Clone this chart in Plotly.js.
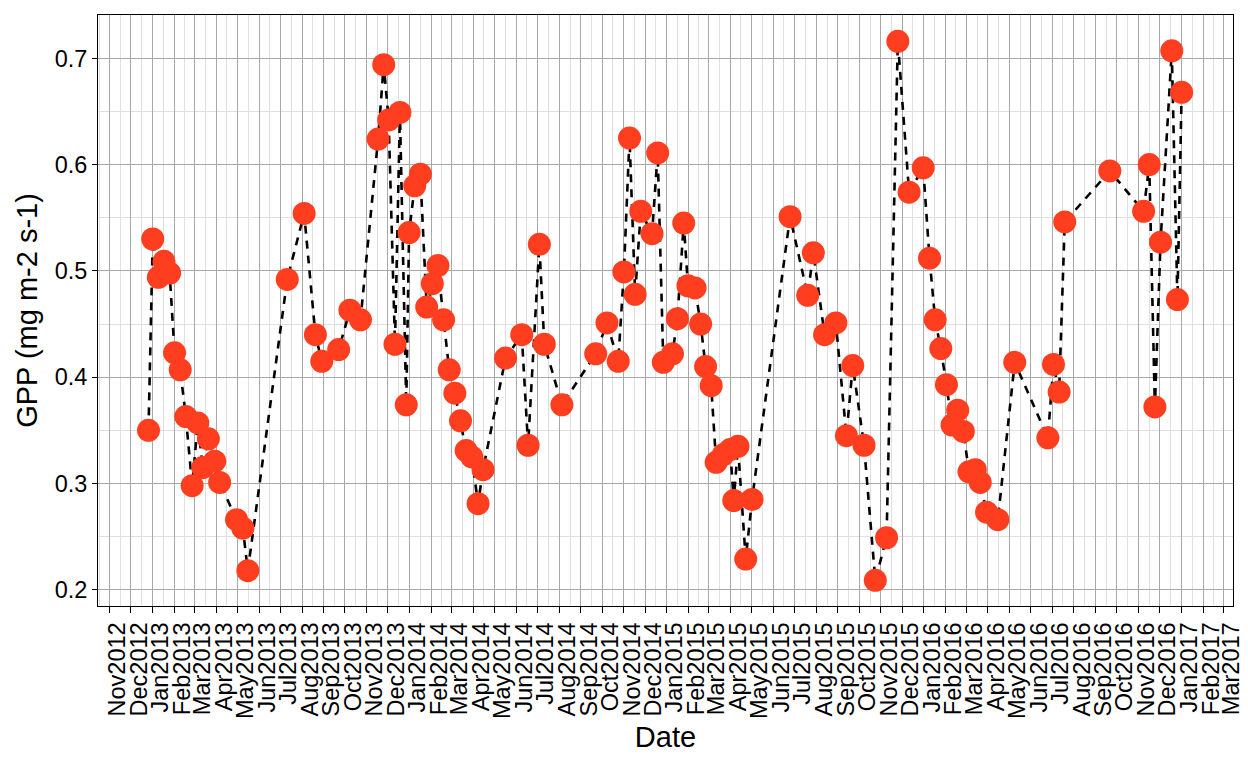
<!DOCTYPE html>
<html>
<head>
<meta charset="utf-8">
<script src="https://cdn.plot.ly/plotly-3.0.1.min.js"></script>
<style>
  html, body { margin: 0; padding: 0; background: #ffffff; }
  #chart { width: 1248px; height: 768px; }
</style>
</head>
<body>
<div id="chart"></div>
<script>
// ---- data ----
const dates = [
  "2012-12-26","2013-01-01","2013-01-09","2013-01-17","2013-01-25","2013-02-01","2013-02-09","2013-02-17",
  "2013-02-26","2013-03-06","2013-03-13","2013-03-21","2013-03-30","2013-04-06","2013-04-30","2013-05-09",
  "2013-05-16","2013-07-11","2013-08-04","2013-08-20","2013-08-29","2013-09-22","2013-10-08","2013-10-23",
  "2013-11-17","2013-11-25","2013-12-02","2013-12-11","2013-12-18","2013-12-27","2013-12-31","2014-01-08",
  "2014-01-16","2014-01-25","2014-02-02","2014-02-10","2014-02-18","2014-02-26","2014-03-06","2014-03-14",
  "2014-03-22","2014-03-30","2014-04-08","2014-04-15","2014-05-17","2014-06-09","2014-06-18","2014-07-04",
  "2014-07-11","2014-08-05","2014-09-22","2014-10-08","2014-10-24","2014-11-01","2014-11-09","2014-11-17",
  "2014-11-25","2014-12-11","2014-12-19","2014-12-27","2015-01-09","2015-01-16","2015-01-25","2015-01-31",
  "2015-02-10","2015-02-18","2015-02-25","2015-03-05","2015-03-12","2015-03-22","2015-04-01","2015-04-06",
  "2015-04-12","2015-04-23","2015-05-02","2015-06-25","2015-07-20","2015-07-28","2015-08-13","2015-08-29",
  "2015-09-13","2015-09-22","2015-10-08","2015-10-24","2015-11-09","2015-11-25","2015-12-11","2015-12-31",
  "2016-01-09","2016-01-17","2016-01-25","2016-02-02","2016-02-10","2016-02-18","2016-02-26","2016-03-05",
  "2016-03-14","2016-03-21","2016-03-30","2016-04-15","2016-05-09","2016-06-25","2016-07-03","2016-07-11",
  "2016-07-19","2016-09-21","2016-11-08","2016-11-16","2016-11-24","2016-12-02","2016-12-18","2016-12-26",
  "2017-01-01"
];
const gpp = [
  0.350,0.530,0.494,0.509,0.498,0.423,0.407,0.363,
  0.298,0.357,0.315,0.342,0.321,0.301,0.266,0.258,
  0.218,0.492,0.554,0.440,0.415,0.426,0.463,0.454,
  0.624,0.694,0.642,0.431,0.649,0.374,0.536,0.580,
  0.591,0.466,0.488,0.505,0.454,0.407,0.385,0.359,
  0.331,0.325,0.281,0.313,0.418,0.440,0.336,0.525,
  0.431,0.374,0.422,0.451,0.415,0.499,0.625,0.478,
  0.556,0.535,0.611,0.414,0.422,0.455,0.545,0.486,
  0.484,0.450,0.410,0.392,0.320,0.327,0.332,0.284,
  0.335,0.229,0.285,0.551,0.477,0.517,0.440,0.451,
  0.345,0.411,0.336,0.209,0.249,0.716,0.574,0.597,
  0.512,0.454,0.427,0.393,0.355,0.369,0.349,0.311,
  0.313,0.301,0.273,0.266,0.414,0.343,0.412,0.386,
  0.546,0.594,0.556,0.600,0.372,0.527,0.707,0.473,
  0.668
];
const yTickVals = [0.2, 0.3, 0.4, 0.5, 0.6, 0.7];
const yTickText = ["0.2", "0.3", "0.4", "0.5", "0.6", "0.7"];
const xTitle = "Date";
const yTitle = "GPP (mg m-2 s-1)";

// ---- monthly breaks (axis positions) and mid-month minor grid ----
const firstMonth = [2012, 10]; // Nov 2012 (0-based month)
const nMonths = 53;            // through Mar 2017
const monthStarts = [];
for (let i = 0; i <= nMonths; i++) {
  monthStarts.push(new Date(Date.UTC(firstMonth[0], firstMonth[1] + i, 1)));
}
const fmt = d => d.toISOString().slice(0, 19).replace("T", " ");
const majorVals = monthStarts.slice(0, nMonths).map(fmt);
const minorVals = [];
minorVals.push(fmt(new Date(monthStarts[0].getTime() - 15 * 86400000)));
for (let i = 0; i < nMonths; i++) {
  minorVals.push(fmt(new Date((monthStarts[i].getTime() + monthStarts[i + 1].getTime()) / 2)));
}

const FONT = "Liberation Sans, Arial, Helvetica, sans-serif";

const trace = {
  type: "scatter",
  mode: "lines+markers",
  x: dates,
  y: gpp,
  line: { color: "#000000", width: 2.6, dash: "8px,7px" },
  marker: { color: "#FF3D1F", size: 23, line: { width: 0 } },
  hoverinfo: "x+y",
  showlegend: false
};

const layout = {
  width: 1248,
  height: 768,
  margin: { l: 98, r: 15, t: 15, b: 162, pad: 0 },
  paper_bgcolor: "#ffffff",
  plot_bgcolor: "#ffffff",
  font: { family: FONT, color: "#000000" },
  xaxis: {
    type: "date",
    range: ["2012-10-15 07:00", "2017-03-14 22:00"],
    tickmode: "array",
    tickvals: majorVals,
    tickformat: "%b%Y",
    tickangle: -90,
    ticks: "outside",
    ticklen: 6,
    tickwidth: 1,
    tickcolor: "#000000",
    tickfont: { family: FONT, size: 23.5, color: "#000000" },
    ticklabelshift: 8,
    showgrid: true,
    gridcolor: "#a8a8a8",
    gridwidth: 1,
    minor: { tickmode: "array", tickvals: minorVals, showgrid: true, gridcolor: "#e0e0e0", gridwidth: 1, ticks: "" },
    showline: true,
    mirror: true,
    linecolor: "#000000",
    linewidth: 1,
    zeroline: false,
    automargin: false,
    title: { text: xTitle, font: { family: FONT, size: 29, color: "#000000" }, standoff: 8 }
  },
  yaxis: {
    range: [0.1848, 0.7407],
    tickmode: "array",
    tickvals: yTickVals,
    ticktext: yTickText,
    ticks: "outside",
    ticklen: 5,
    tickwidth: 1,
    tickcolor: "#000000",
    tickfont: { family: FONT, size: 23.5, color: "#000000" },
    showgrid: true,
    gridcolor: "#a8a8a8",
    gridwidth: 1,
    minor: { tickmode: "linear", tick0: 0.25, dtick: 0.1, showgrid: true, gridcolor: "#e0e0e0", gridwidth: 1, ticks: "" },
    showline: true,
    mirror: true,
    linecolor: "#000000",
    linewidth: 1,
    zeroline: false,
    automargin: false,
    title: { text: yTitle, font: { family: FONT, size: 29, color: "#000000" }, standoff: 8 }
  }
};

Plotly.newPlot("chart", [trace], layout, { staticPlot: true, displayModeBar: false });
</script>
</body>
</html>
